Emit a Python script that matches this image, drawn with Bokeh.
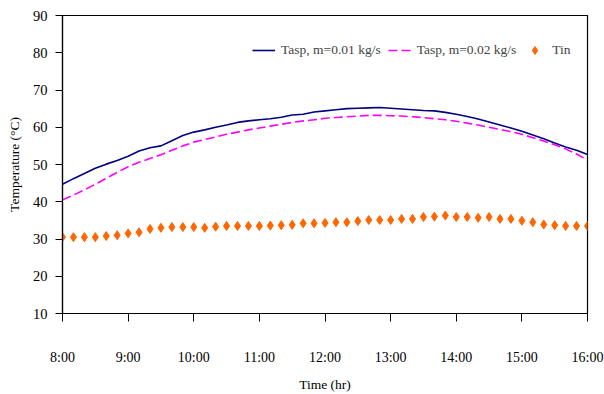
from bokeh.plotting import figure
from bokeh.models import FixedTicker, Legend, LegendItem, ColumnDataSource
from bokeh.embed import file_html
from bokeh.resources import INLINE

# Time of day in hours, one reading every 10 minutes from 8:00 to 16:00
time_hr = [8 + i / 6 for i in range(49)]

# Absorber plate temperature, mass flow 0.01 kg/s (deg C)
tasp_001 = [44.7, 46.2, 47.6, 49.0, 50.1, 51.1, 52.2, 53.6, 54.5, 55.0,
            56.4, 57.8, 58.7, 59.3, 60.0, 60.6, 61.3, 61.7, 62.0, 62.3,
            62.7, 63.3, 63.5, 64.1, 64.4, 64.7, 65.0, 65.1, 65.2, 65.3,
            65.1, 64.9, 64.7, 64.5, 64.4, 64.0, 63.5, 62.9, 62.2, 61.4,
            60.6, 59.8, 58.9, 57.9, 56.9, 55.8, 54.7, 53.8, 52.7]

# Absorber plate temperature, mass flow 0.02 kg/s (deg C)
tasp_002 = [40.5, 41.8, 43.2, 44.7, 46.3, 47.9, 49.4, 50.6, 51.6, 52.6,
            53.8, 55.0, 56.0, 56.7, 57.4, 58.1, 58.7, 59.3, 59.8, 60.3,
            60.8, 61.3, 61.7, 62.0, 62.4, 62.6, 62.8, 63.0, 63.2, 63.2,
            63.1, 63.0, 62.8, 62.6, 62.3, 62.0, 61.6, 61.1, 60.6, 60.0,
            59.4, 58.8, 58.1, 57.2, 56.3, 55.3, 54.2, 52.8, 51.2]

# Inlet air temperature (deg C)
tin = [30.5, 30.5, 30.5, 30.5, 30.8, 31.0, 31.5, 31.8, 32.7, 33.0,
       33.2, 33.2, 33.2, 33.0, 33.3, 33.5, 33.5, 33.5, 33.5, 33.6,
       33.7, 33.8, 34.2, 34.2, 34.3, 34.5, 34.5, 34.8, 35.1, 35.1,
       35.1, 35.4, 35.4, 35.9, 36.0, 36.3, 35.9, 35.9, 35.7, 35.9,
       35.4, 35.4, 34.9, 34.5, 33.9, 33.7, 33.5, 33.5, 33.5]

hour_ticks = [8, 9, 10, 11, 12, 13, 14, 15, 16]
hour_labels = ["8:00", "9:00", "10:00", "11:00", "12:00", "13:00", "14:00", "15:00", "16:00"]
y_ticks = [10, 20, 30, 40, 50, 60, 70, 80, 90]

FONT = "Liberation Serif"

src = ColumnDataSource(dict(t=time_hr, a=tasp_001, b=tasp_002, c=tin))

p = figure(width=604, height=394, output_backend="svg", toolbar_location=None,
           x_range=(8, 16), y_range=(10, 90),
           min_border_left=62, min_border_right=17,
           min_border_top=15, min_border_bottom=80)
p.xgrid.visible = False
p.ygrid.visible = False
p.outline_line_color = "black"
p.outline_line_width = 1.2
p.background_fill_color = "white"
p.border_fill_color = "white"

r1 = p.line("t", "a", source=src, line_color="#000080", line_width=1.6)
r2 = p.line("t", "b", source=src, line_color="#FF00FF", line_width=1.6, line_dash="9 4")
r3 = p.scatter("t", "c", source=src, marker="diamond", size=9,
               fill_color="#FF6600", line_color="#FF6600")

xa = p.xaxis[0]
xa.ticker = FixedTicker(ticks=hour_ticks)
xa.major_label_overrides = {t: l for t, l in zip(hour_ticks, hour_labels)}
xa.axis_label = "Time (hr)"
xa.major_tick_out = 8
xa.major_label_standoff = 28
xa.axis_label_standoff = 9
xa.major_label_text_font_size = "14px"

ya = p.yaxis[0]
ya.ticker = FixedTicker(ticks=y_ticks)
ya.axis_label = "Temperature (°C)"
ya.major_tick_out = 7
ya.major_label_standoff = 8
ya.axis_label_standoff = 8
ya.major_label_text_font_size = "14.5px"

for ax in (xa, ya):
    ax.axis_line_color = "black"
    ax.axis_line_width = 1.2
    ax.major_tick_line_color = "black"
    ax.major_tick_in = 0
    ax.minor_tick_line_color = None
    ax.major_label_text_font = FONT
    ax.major_label_text_color = "black"
    ax.axis_label_text_font = FONT
    ax.axis_label_text_font_size = "13.5px"
    ax.axis_label_text_font_style = "normal"
    ax.axis_label_text_color = "black"

legend = Legend(items=[
    LegendItem(label="Tasp, m=0.01 kg/s", renderers=[r1]),
    LegendItem(label="Tasp, m=0.02 kg/s", renderers=[r2]),
    LegendItem(label="Tin", renderers=[r3]),
], orientation="horizontal", location=(190, 253))
legend.border_line_color = None
legend.background_fill_alpha = 0
legend.label_text_font = FONT
legend.label_text_font_size = "13.5px"
legend.glyph_width = 23
legend.glyph_height = 20
legend.label_standoff = 6
legend.spacing = 7
legend.margin = 0
legend.padding = 0
p.add_layout(legend)

open("out.html", "w").write(file_html(p, INLINE))
